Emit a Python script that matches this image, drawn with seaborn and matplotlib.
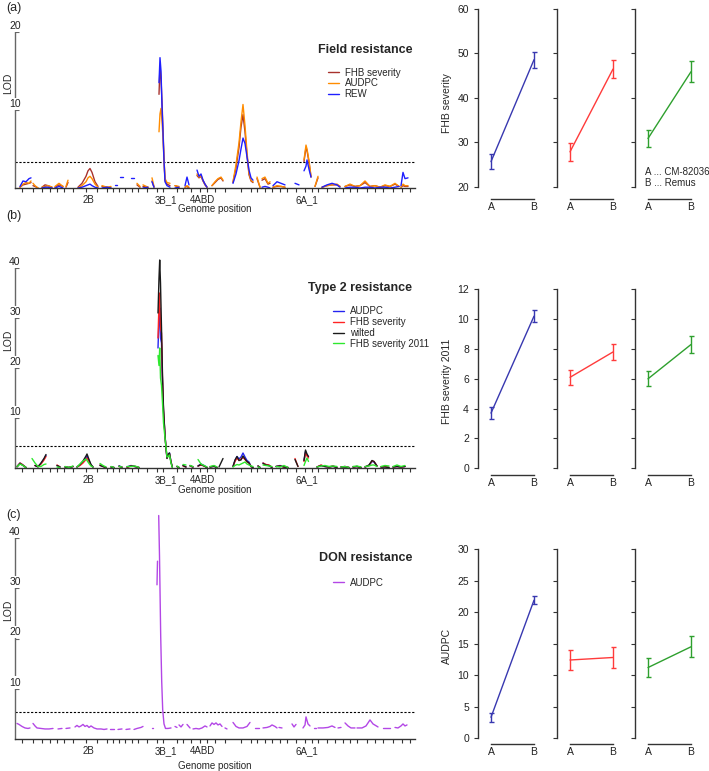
import numpy as np
import pandas as pd
import matplotlib
matplotlib.use("Agg")
import matplotlib.pyplot as plt
import seaborn as sns

G = np.nan

# ---------------- genome axis ----------------
chrom_bounds = [7, 18, 27, 35, 42, 49, 58, 71, 82, 92, 98, 104, 110, 117, 123, 132, 142, 148,
                162, 168, 176, 185, 192, 200, 210, 226, 236, 242, 250, 257, 265, 272, 281,
                290, 297, 303, 312, 320, 328, 335, 342, 352, 360, 368, 378, 387, 395]
chrom_labels = ["2B", "3B_1", "4ABD", "5A_1", "6A_1"]
chrom_label_pos = [73, 151, 187, 226, 292]

# ---------------- (a) Field resistance ----------------
pos_a = [5, 8, 11, 14, 16, G,
         18, 20, 23, G,
         27, 30, 33, 37, G,
         40, 44, 48, G,
         51, 53, G,
         63, 67, 71, 73, 75, 77, 80, 83, G,
         87, 92, 96, G,
         100, 102, G,
         105, 108, G,
         116, 119, G,
         122, 125, G,
         128, 133, G,
         137, 139, G,
         144, 145, 146, 147, 148, 149, 150, 152, 155, G,
         160, 164, G,
         170, 172, 174, G,
         182, 184, 186, 188, 190, 192, G,
         197, 200, 203, 206, 208, G,
         218, 221, 224, 226, 228, 230, 232, 234, 236, 238, G,
         242, 245, G,
         247, 250, 253, 255, G,
         258, 262, 266, 270, G,
         280, 284, G,
         289, 291, 292, 294, 296, G,
         300, 303, G,
         307, 312, 317, 322, 325, G,
         330, 335, 340, 345, 350, 355, 360, 365, 370, 375, 380, 384, G,
         386, 388, 390, 393]
fhb_a = [0.1, 0.4, 0.5, 0.6, 0.7, G,
         0.3, 0.2, 0.0, G,
         0.1, 0.4, 0.3, 0.1, G,
         0.1, 0.4, 0.2, G,
         0.1, 0.7, G,
         0.1, 0.6, 1.5, 2.2, 2.5, 2.0, 0.8, 0.2, G,
         0.2, 0.1, 0.0, G,
         G, G, G,
         G, G, G,
         G, G, G,
         0.4, 0.1, G,
         0.2, 0.1, G,
         0.9, 0.1, G,
         12.0, 15.6, 14.0, 11.0, 7.5, 3.8, 1.0, 0.5, 0.3, G,
         0.3, 0.1, G,
         0.1, 0.2, 0.0, G,
         1.6, 1.3, 1.5, 0.9, 0.4, 0.1, G,
         0.3, 0.7, 1.1, 1.3, 0.9, G,
         0.7, 2.6, 5.2, 7.8, 9.4, 7.2, 4.2, 1.7, 0.9, 0.7, G,
         1.2, 0.1, G,
         1.0, 1.2, 0.5, 0.6, G,
         0.1, 0.2, 0.2, 0.1, G,
         G, G, G,
         3.4, 5.2, 4.8, 3.3, 1.4, G,
         0.2, 1.3, G,
         0.1, 0.3, 0.4, 0.4, 0.2, G,
         0.2, 0.4, 0.2, 0.3, 0.7, 0.2, 0.3, 0.1, 0.3, 0.2, 0.5, 0.2, G,
         0.1, 0.3, 0.2, 0.2]
audpc_a = [0.1, 0.5, 0.7, 0.6, 0.9, G,
           0.6, 0.3, 0.0, G,
           0.1, 0.2, 0.3, 0.1, G,
           0.2, 0.6, 0.2, G,
           0.2, 1.0, G,
           0.0, 0.3, 0.8, 1.3, 1.5, 1.2, 0.5, 0.1, G,
           0.3, 0.1, 0.2, G,
           G, G, G,
           G, G, G,
           G, G, G,
           0.6, 0.2, G,
           0.4, 0.1, G,
           1.3, 0.2, G,
           7.2, 9.5, 10.2, 8.5, 6.5, 3.5, 1.2, 0.7, 0.6, G,
           0.3, 0.2, G,
           0.1, 0.3, 0.1, G,
           1.8, 1.4, 1.6, 1.0, 0.5, 0.1, G,
           0.3, 0.8, 1.2, 1.4, 1.0, G,
           0.8, 3.0, 5.8, 8.5, 10.7, 8.0, 4.6, 1.9, 1.0, 0.8, G,
           1.4, 0.1, G,
           1.2, 1.4, 0.6, 0.8, G,
           0.1, 0.3, 0.2, 0.1, G,
           G, G, G,
           3.6, 5.5, 5.0, 3.5, 1.5, G,
           0.2, 1.5, G,
           0.1, 0.3, 0.4, 0.5, 0.2, G,
           0.2, 0.5, 0.2, 0.3, 0.9, 0.2, 0.3, 0.1, 0.4, 0.2, 0.6, 0.2, G,
           0.1, 0.5, 0.3, 0.3]
rew_a = [0.2, 0.9, 0.8, 1.2, 1.3, G,
         G, G, G, G,
         0.0, 0.1, 0.1, 0.0, G,
         0.0, 0.2, 0.0, G,
         G, G, G,
         0.0, 0.1, 0.3, 0.4, 0.5, 0.3, 0.1, 0.0, G,
         0.0, 0.1, 0.0, G,
         0.4, 0.4, G,
         1.4, 1.4, G,
         1.3, 1.3, G,
         G, G, G,
         0.0, 0.1, G,
         0.8, 0.1, G,
         13.5, 16.7, 15.0, 10.5, 7.0, 3.5, 0.8, 0.3, 0.1, G,
         0.0, 0.1, G,
         0.3, 1.4, 0.4, G,
         2.3, 1.5, 1.8, 1.0, 0.5, 0.1, G,
         G, G, G, G, G, G,
         0.6, 1.8, 3.5, 5.0, 6.4, 5.7, 4.0, 2.3, 1.3, 1.0, G,
         G, G, G,
         0.1, 0.2, 0.1, 0.0, G,
         0.3, 0.8, 0.6, 0.4, G,
         0.6, 0.4, G,
         2.2, 2.8, 3.6, 2.4, 1.4, G,
         G, G, G,
         0.1, 0.4, 0.6, 0.4, 0.1, G,
         0.0, 0.1, 0.1, 0.0, 0.1, 0.1, 0.0, 0.1, 0.1, 0.0, 0.1, 0.2, G,
         0.3, 2.0, 1.2, 1.3]

# ---------------- (b) Type 2 resistance ----------------
pos_b = [2, 5, 8, 11, G,
         17, 20, 23, 26, 29, 31, G,
         42, 45, G,
         50, 54, 58, G,
         62, 65, 68, 71, 72, 74, 76, 78, G,
         85, 88, 91, G,
         96, 99, G,
         104, 107, G,
         112, 116, 120, 124, G,
         143, 144, 144.7, 145.5, 146.5, 147.5, 148.5, 150, 151, 152, 153.3, 154.5, 156, 157.3, G,
         162, 164, G,
         168, 171, G,
         175, 178, G,
         183, 186, 189, 192, G,
         195, 199, 202, G,
         204, 208, G,
         218, 220, 222, 224, 226, 228, 230, 232, 234, 236, 238, G,
         243, 245, G,
         248, 251, 254, 257, G,
         261, 265, 269, 273, G,
         280, 283, G,
         289, 290.5, 292, 293.5, G,
         302, 306, 310, 314, 318, 322, G,
         326, 330, 334, G,
         338, 342, 346, G,
         350, 354, 357, 359, 362, G,
         366, 370, 374, G,
         378, 382, 386, 390]
audpc_b = [0.3, 1.0, 0.6, 0.1, G,
           G, 0.5, 0.3, 0.9, 1.8, 2.5, G,
           0.5, 0.2, G,
           0.2, 0.1, 0.3, G,
           0.2, 0.6, 1.2, 2.0, 2.4, 1.5, 0.6, 0.2, G,
           0.6, 0.3, 0.1, G,
           0.2, 0.1, G,
           0.4, 0.2, G,
           0.2, 0.5, 0.3, 0.1, G,
           24.0, 30.0, 32.0, 26.0, 25.0, 17.0, 11.5, 6.5, 4.0, 2.0, 2.6, 3.0, 1.2, 0.2, G,
           0.3, 0.1, G,
           0.5, 0.2, G,
           0.4, 0.2, G,
           0.4, 0.8, 0.5, 0.1, G,
           0.2, 0.4, 0.1, G,
           G, G, G,
           0.3, 1.5, 2.3, 1.8, 2.2, 3.0, 2.2, 1.5, 1.2, 0.3, 0.1, G,
           0.4, 0.1, G,
           1.0, 0.6, 0.5, 0.1, G,
           0.3, 0.5, 0.2, 0.1, G,
           G, G, G,
           1.5, 3.3, 2.6, 2.2, G,
           0.2, 0.5, 0.3, 0.2, 0.4, 0.1, G,
           0.2, 0.3, 0.1, G,
           0.2, 0.3, 0.1, G,
           0.2, 0.5, 1.3, 1.2, 0.4, G,
           0.2, 0.3, 0.1, G,
           0.2, 0.3, 0.2, 0.3]
fhb_b = [0.3, 1.0, 0.6, 0.1, G,
         G, 0.5, 0.3, 0.8, 1.6, 2.3, G,
         0.6, 0.2, G,
         0.2, 0.1, 0.3, G,
         0.2, 0.5, 1.0, 1.7, 2.0, 1.3, 0.5, 0.2, G,
         0.6, 0.3, 0.1, G,
         0.2, 0.1, G,
         0.3, 0.2, G,
         0.1, 0.4, 0.3, 0.1, G,
         26.0, 33.0, 35.0, 28.0, 27.0, 17.5, 11.5, 6.5, 4.0, 2.0, 2.5, 2.8, 1.2, 0.2, G,
         0.3, 0.1, G,
         0.4, 0.2, G,
         0.4, 0.2, G,
         0.4, 0.6, 0.4, 0.1, G,
         0.2, 0.4, 0.1, G,
         G, G, G,
         0.3, 1.3, 2.0, 1.5, 1.8, 2.1, 1.7, 1.2, 1.0, 0.3, 0.1, G,
         0.4, 0.1, G,
         1.0, 0.7, 0.6, 0.1, G,
         0.3, 0.4, 0.2, 0.1, G,
         1.9, 0.3, G,
         1.3, 3.0, 2.4, 2.0, G,
         0.2, 0.6, 0.3, 0.2, 0.4, 0.1, G,
         0.2, 0.3, 0.1, G,
         0.2, 0.3, 0.1, G,
         0.2, 0.5, 1.4, 1.3, 0.4, G,
         0.2, 0.3, 0.1, G,
         0.2, 0.3, 0.2, 0.3]
wilt_b = [0.2, 0.9, 0.5, 0.1, G,
          G, 0.5, 0.2, 1.0, 1.9, 2.7, G,
          0.5, 0.2, G,
          0.2, 0.1, 0.3, G,
          0.2, 0.7, 1.4, 2.4, 2.8, 1.7, 0.7, 0.2, G,
          0.5, 0.3, 0.1, G,
          0.2, 0.1, G,
          0.4, 0.1, G,
          0.2, 0.4, 0.3, 0.1, G,
          31.0, 38.0, 41.6, 37.0, 28.0, 18.5, 12.0, 6.5, 4.0, 1.9, 2.8, 3.0, 1.2, 0.2, G,
          0.3, 0.1, G,
          0.5, 0.2, G,
          0.5, 0.2, G,
          0.4, 0.7, 0.4, 0.1, G,
          0.2, 0.3, 0.1, G,
          0.2, 1.9, G,
          0.3, 1.6, 2.3, 1.5, 1.6, 2.4, 1.8, 1.3, 1.0, 0.3, 0.1, G,
          0.4, 0.1, G,
          0.9, 0.6, 0.5, 0.1, G,
          0.3, 0.4, 0.2, 0.1, G,
          1.7, 0.3, G,
          1.5, 3.6, 2.8, 2.3, G,
          0.2, 0.5, 0.3, 0.2, 0.3, 0.1, G,
          0.2, 0.2, 0.1, G,
          0.2, 0.3, 0.1, G,
          0.2, 0.6, 1.5, 1.3, 0.4, G,
          0.2, 0.2, 0.1, G,
          0.2, 0.3, 0.2, 0.3]
fhb11_b = [0.3, 0.8, 0.5, 0.1, G,
           1.9, 1.0, 0.3, 0.3, 0.7, 0.8, G,
           0.2, 0.1, G,
           0.3, 0.1, 0.4, G,
           0.2, 0.8, 1.4, 1.8, 1.5, 0.9, 0.4, 0.2, G,
           0.9, 0.5, 0.2, G,
           0.3, 0.1, G,
           0.3, 0.2, G,
           0.3, 0.3, 0.4, 0.1, G,
           22.5, 20.5, 24.0, 18.0, 16.5, 13.0, 9.0, 6.0, 4.2, 2.2, 2.3, 2.6, 1.0, 0.1, G,
           0.4, 0.1, G,
           0.7, 0.6, G,
           0.5, 0.3, G,
           1.7, 0.8, 0.5, 0.2, G,
           0.3, 0.5, 0.2, G,
           G, G, G,
           0.2, 0.5, 0.7, 0.6, 0.8, 1.0, 1.2, 0.8, 0.6, 0.4, 0.3, G,
           0.2, 0.1, G,
           0.6, 0.5, 0.4, 0.3, G,
           0.3, 0.2, 0.5, 0.1, G,
           G, G, G,
           0.5, 1.3, 2.0, 1.3, G,
           0.2, 0.4, 0.5, 0.3, 0.4, 0.3, G,
           0.2, 0.3, 0.1, G,
           0.3, 0.4, 0.2, G,
           0.3, 0.4, 0.6, 0.6, 0.3, G,
           0.3, 0.5, 0.4, G,
           0.3, 0.6, 0.3, 0.5]

# ---------------- (c) DON resistance ----------------
pos_c = [2, 4, 7, 10, 13, 15, G,
         18, 20, 22, 26, 30, 34, 38, G,
         43, 47, G,
         51, 55, G,
         60, 62, 64, 66, 68, 70, 72, 74, 76, 79, 82, 86, 89, 92, G,
         95, 99, G,
         103, 107, G,
         111, 115, G,
         119, 122, 126, 128, G,
         137, 138, G,
         142, 142.5, G,
         143.7, 144.5, 145.7, 146.7, 147.7, 149, 150.5, 153, 156, G,
         160, 162, G,
         164, 166, 168, G,
         172, 175, G,
         178, 181, 184, 187, 190, 192, G,
         195, 197, 199, 201, 203, 205, 207, G,
         210, 212, G,
         218, 221, 224, 228, 232, 235, G,
         240, 244, G,
         248, 252, 255, 257, 260, 262, G,
         264, 267, G,
         277, 279, 281, G,
         288, 290, 291, 293, 295, G,
         299, 301, G,
         303, 308, 313, 317, 320, G,
         323, 326, G,
         330, 333, 336, 340, G,
         342, 347, 351, 355, 358, 363, G,
         368, 375, G,
         380, 383, 386, 388, 390, 392]
audpc_c = [3.1, 2.9, 2.5, 2.2, 2.1, 2.2, G,
           3.1, 2.6, 2.2, 2.1, 2.0, 2.0, 2.1, G,
           2.0, 2.1, G,
           2.1, 2.2, G,
           2.4, 2.7, 2.4, 2.6, 2.9, 2.5, 2.7, 2.3, 2.6, 2.2, 2.0, 2.0, 1.9, 2.0, G,
           1.9, 1.9, G,
           1.9, 2.0, G,
           1.9, 2.0, G,
           1.9, 2.1, 2.3, 2.5, G,
           2.1, 2.1, G,
           30.7, 35.4, G,
           44.5, 36.5, 20.5, 11.5, 5.8, 3.0, 2.1, 2.1, 2.2, G,
           2.5, 2.3, G,
           2.8, 2.4, 2.9, G,
           2.9, 2.2, G,
           2.0, 2.1, 2.0, 2.2, 2.6, 2.4, G,
           2.6, 3.2, 2.9, 3.2, 2.8, 3.0, 2.5, G,
           2.2, 2.0, G,
           3.3, 2.5, 2.2, 2.2, 2.5, 3.3, G,
           2.2, 2.2, G,
           2.2, 2.3, 2.5, 2.8, 2.5, 2.2, G,
           2.3, 2.2, G,
           3.0, 2.4, 2.9, G,
           2.2, 2.8, 4.4, 3.0, 2.6, G,
           2.2, 2.2, G,
           2.2, 2.2, 2.3, 2.6, 2.3, G,
           2.2, 2.3, G,
           3.2, 2.6, 2.2, 2.2, G,
           2.2, 2.2, 2.6, 3.8, 3.0, 2.4, G,
           2.2, 2.2, G,
           2.3, 2.2, 2.6, 3.0, 2.6, 2.8]

# ---------------- interaction (allele effect) plots ----------------
geno = ["A", "B"]
fhb_means = [[25.7, 48.6], [27.9, 46.5], [30.9, 45.9]]
fhb_se = [[1.7, 1.8], [2.0, 2.0], [1.9, 2.3]]
sev11_means = [[3.7, 10.2], [6.1, 7.8], [6.0, 8.3]]
sev11_se = [[0.4, 0.4], [0.5, 0.55], [0.5, 0.6]]
audpc_means = [[3.3, 21.9], [12.4, 12.8], [11.2, 14.5]]
audpc_se = [[0.7, 0.6], [1.6, 1.6], [1.5, 1.7]]
effect_colors = ["#3838B0", "#FF3B3B", "#2EA02E"]

# ---------------- figure ----------------
sns.set_style("ticks")
plt.rcParams["font.family"] = ["Liberation Sans", "DejaVu Sans"]
W, H = 709, 771
fig = plt.figure(figsize=(W / 100, H / 100), dpi=100)


def fx(x):
    return x / W


def fy(y):
    return 1 - y / H


def long_form(pos, series):
    rows = []
    for name, vals in series.items():
        seg = 0
        for p, v in zip(pos, vals):
            if np.isnan(v) or np.isnan(p):
                seg += 1
                continue
            rows.append((p, v, name, f"{name}#{seg}"))
    return pd.DataFrame(rows, columns=["pos", "lod", "trait", "seg"])


def lod_panel(top_px, bottom_px, ylim_top, yticks, thr, series, colors,
              title, title_y, leg_x, leg_y, label_px, gp_px, panel_lab, panel_y):
    ax = fig.add_axes([fx(15), fy(bottom_px), fx(400), (bottom_px - top_px) / H])
    df = long_form(series["pos"], series["vals"])
    names = list(series["vals"].keys())
    sns.lineplot(data=df, x="pos", y="lod", hue="trait", hue_order=names,
                 palette=colors, units="seg", estimator=None, sort=False,
                 lw=1.0, ax=ax)
    ax.axhline(thr, color="black", lw=0.8, ls=(0, (2, 1.5)), zorder=1)
    ax.set_xlim(0, 400)
    ax.set_ylim(0, ylim_top)
    for s in ["top", "right"]:
        ax.spines[s].set_visible(False)
    ax.spines["left"].set_bounds(0, yticks[-1])
    ax.spines["left"].set_color("#666666")
    ax.spines["bottom"].set_color("#333333")
    ax.spines["left"].set_linewidth(1.0)
    ax.spines["bottom"].set_linewidth(1.0)
    ax.set_yticks(yticks)
    ax.tick_params(axis="y", direction="in", length=3, width=0.8, colors="#666666",
                   labelleft=False)
    for v in yticks:
        ax.annotate(str(v), xy=(0, v), xycoords=("axes fraction", "data"),
                    xytext=(0, 4.5), textcoords="offset points", ha="center",
                    va="center", fontsize=7.5, color="#222222",
                    bbox=dict(boxstyle="square,pad=0.1", fc="white", ec="none"),
                    annotation_clip=False, zorder=5)
    ax.set_xticks(chrom_bounds)
    ax.set_xticklabels([])
    ax.tick_params(axis="x", which="major", direction="out", length=3, width=0.8,
                   colors="#333333")
    ax.set_xticks(chrom_label_pos, minor=True)
    ax.set_xticklabels(chrom_labels, minor=True, fontsize=7)
    ax.tick_params(axis="x", which="minor", length=0, pad=5)
    ax.set_xlabel("")
    ax.set_ylabel("")
    h, l = ax.get_legend_handles_labels()
    ax.legend(h, l, loc="upper left", bbox_to_anchor=(fx(leg_x), fy(leg_y)),
              bbox_transform=fig.transFigure, frameon=False, fontsize=7,
              handlelength=1.1, handletextpad=0.6, labelspacing=0.08,
              borderpad=0, borderaxespad=0)
    fig.text(fx(412), fy(title_y), title, fontsize=9, fontweight="bold",
             ha="right", va="center")
    fig.text(fx(8.5), fy(label_px), "LOD", rotation=90, fontsize=7.5,
             ha="center", va="center")
    fig.text(fx(215), fy(gp_px), "Genome position", fontsize=7,
             ha="center", va="center")
    fig.text(fx(6), fy(panel_y), panel_lab, fontsize=9, ha="left", va="center")
    return ax


lod_panel(28, 188, 20.5, [10, 20], 3.3,
          {"pos": pos_a, "vals": {"FHB severity": fhb_a, "AUDPC": audpc_a, "REW": rew_a}},
          ["#A8322D", "#FF8C00", "#1F1FFF"],
          "Field resistance", 50, 328, 67.5, 83, 209, "(a)", 8)
lod_panel(258, 468, 42, [10, 20, 30, 40], 4.4,
          {"pos": pos_b, "vals": {"AUDPC": audpc_b, "FHB severity": fhb_b,
                                  "wilted": wilt_b, "FHB severity 2011": fhb11_b}},
          ["#2424F0", "#FF2424", "#1A1A1A", "#2EE82E"],
          "Type 2 resistance", 288, 333, 306.5, 340, 490, "(b)", 216)
lod_panel(512, 739, 45.2, [10, 20, 30, 40], 5.4,
          {"pos": pos_c, "vals": {"AUDPC": audpc_c}},
          ["#B347E6"],
          "DON resistance", 558, 333, 577.5, 610, 766, "(c)", 515)


def effect_row(bottom_px, top_px, ylim, yticks, means, ses, ylabel):
    lefts = [478, 557, 635]
    axes = []
    for i, left in enumerate(lefts):
        ax = fig.add_axes([fx(left), fy(bottom_px), fx(62), (bottom_px - top_px) / H])
        dfm = pd.DataFrame({"x": [geno.index(g) for g in geno], "y": means[i]})
        sns.lineplot(data=dfm, x="x", y="y", color=effect_colors[i], lw=1.0, ax=ax)
        ax.errorbar(dfm["x"], dfm["y"], yerr=ses[i], fmt="none",
                    ecolor=effect_colors[i], elinewidth=1.0, capsize=1.8, capthick=1.0)
        ax.set_xlim(-13 / 43, 1 + 6 / 43)
        ax.set_ylim(*ylim)
        for s in ["top", "right"]:
            ax.spines[s].set_visible(False)
        ax.spines["left"].set_bounds(yticks[0], yticks[-1])
        ax.spines["bottom"].set_bounds(0, 1)
        for s in ["left", "bottom"]:
            ax.spines[s].set_color("#333333")
            ax.spines[s].set_linewidth(1.0)
        ax.set_yticks(yticks)
        ax.set_xticks([0, 1])
        ax.set_xticklabels(geno)
        ax.tick_params(axis="y", direction="out", length=3, width=0.8,
                       labelsize=7.5, labelleft=(i == 0), colors="#333333",
                       labelcolor="#222222")
        ax.tick_params(axis="x", length=0, pad=2.5, labelsize=7.5, labelcolor="#222222")
        ax.set_xlabel("")
        ax.set_ylabel(ylabel if i == 0 else "", fontsize=7.5, labelpad=4)
        axes.append(ax)
    return axes


effect_row(199, 8, (17.3, 60.22), [20, 30, 40, 50, 60], fhb_means, fhb_se, "FHB severity")
effect_row(475, 288, (-0.45, 12.09), [0, 2, 4, 6, 8, 10, 12], sev11_means, sev11_se,
           "FHB severity 2011")
effect_row(744, 548, (-0.95, 30.2), [0, 5, 10, 15, 20, 25, 30], audpc_means, audpc_se,
           "AUDPC")

fig.text(fx(645), fy(172), "A ... CM-82036", fontsize=7, ha="left", va="center")
fig.text(fx(645), fy(183), "B ... Remus", fontsize=7, ha="left", va="center")

fig.savefig("out.png", dpi=100)
